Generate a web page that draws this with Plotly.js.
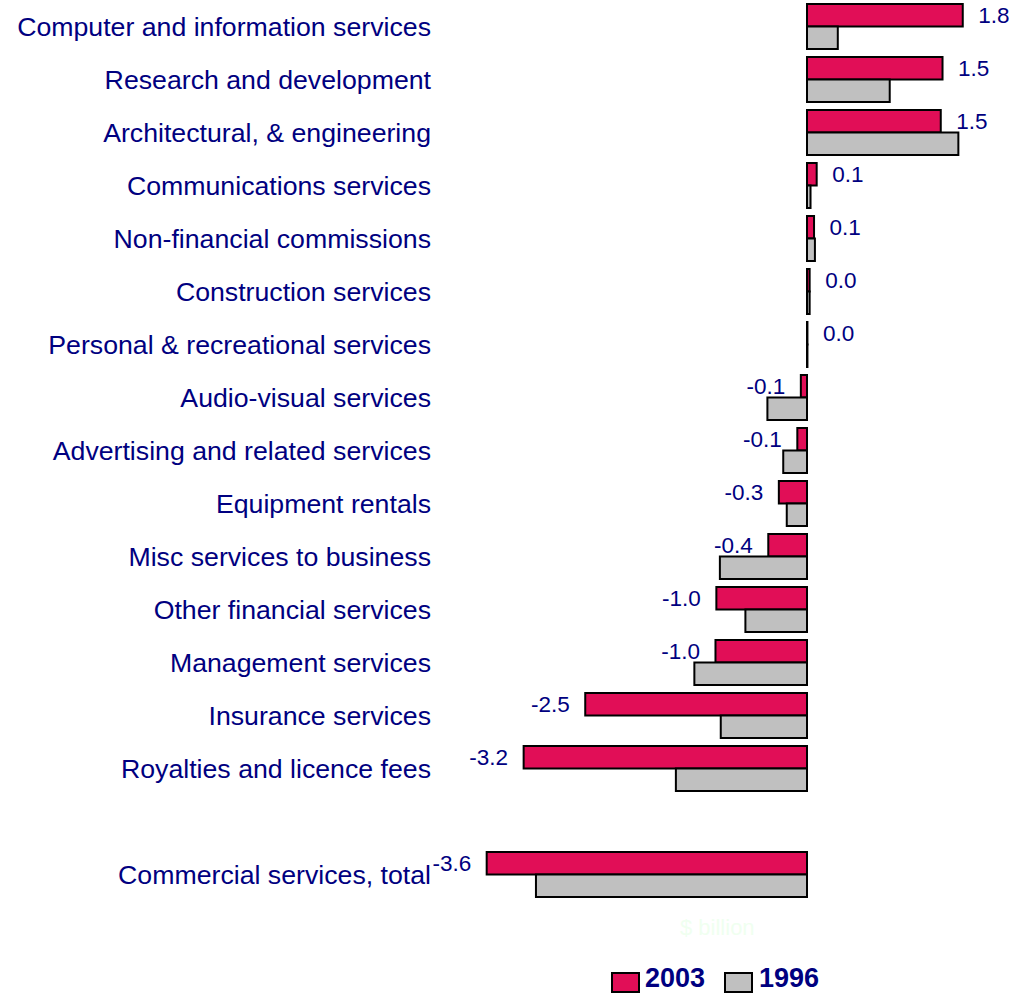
<!DOCTYPE html>
<html>
<head>
<meta charset="utf-8">
<script src="https://cdn.plot.ly/plotly-3.0.1.min.js"></script>
<style>html,body{margin:0;padding:0;background:#fff;}#chart{width:1019px;height:996px;}</style>
</head>
<body>
<div id="chart"></div>
<script>
const categories = [
  "Computer and information services",
  "Research and development",
  "Architectural, & engineering",
  "Communications services",
  "Non-financial commissions",
  "Construction services",
  "Personal & recreational services",
  "Audio-visual services",
  "Advertising and related services",
  "Equipment rentals",
  "Misc services to business",
  "Other financial services",
  "Management services",
  "Insurance services",
  "Royalties and licence fees",
  " ",
  "Commercial services, total"
];
const values2003 = [1.77, 1.54, 1.52, 0.11, 0.08, 0.03, 0.005, -0.07, -0.11, -0.32, -0.44, -1.03, -1.04, -2.52, -3.22, null, -3.64];
const values1996 = [0.35, 0.94, 1.72, 0.04, 0.09, 0.03, 0.005, -0.45, -0.27, -0.23, -0.99, -0.70, -1.28, -0.98, -1.49, null, -3.08];
const seriesNames = ["2003", "1996"];

const NB = "\u00a0\u00a0";
const labels2003 = values2003.map(v => v === null ? "" : (v >= 0 ? NB + v.toFixed(1) : v.toFixed(1) + NB));

const navy = "#000080";
const font = "Arial, 'Liberation Sans', sans-serif";

const traces = [
  {
    type: "bar", orientation: "h", name: seriesNames[0],
    y: categories, x: values2003,
    marker: {color: "#E10E57", line: {color: "#000000", width: 2}},
    text: labels2003, textposition: "outside", constraintext: "none",
    outsidetextfont: {family: font, size: 22.5, color: navy},
    cliponaxis: false, hoverinfo: "x+y"
  },
  {
    type: "bar", orientation: "h", name: seriesNames[1],
    y: categories, x: values1996,
    marker: {color: "#C0C0C0", line: {color: "#000000", width: 2}},
    cliponaxis: false, hoverinfo: "x+y"
  }
];

const W = 1019, H = 996, L = 440, R = 0, T = 0, B = 95;
const pw = W - L - R, ph = H - T - B;
const px = x => (x - L) / pw;
const py = y => (T + ph - y) / ph;

const layout = {
  width: W, height: H,
  margin: {l: L, r: R, t: T, b: B, pad: 0},
  paper_bgcolor: "#ffffff", plot_bgcolor: "#ffffff",
  barmode: "group", bargap: 0.15, bargroupgap: 0,
  showlegend: false,
  font: {family: font, color: navy},
  xaxis: {range: [-(807 - L) / 88, (W - R - 807) / 88], showticklabels: false, showgrid: false, zeroline: false, showline: false, ticks: ""},
  yaxis: {type: "category", autorange: "reversed", categoryorder: "array", categoryarray: categories,
          showgrid: false, zeroline: false, showline: false, ticks: "", ticklabelstandoff: 8,
          tickfont: {family: font, size: 26.7, color: navy}},
  shapes: [
    {type: "rect", xref: "paper", yref: "paper", x0: px(612), x1: px(639), y0: py(973), y1: py(992), fillcolor: "#E10E57", line: {color: "#000", width: 2}},
    {type: "rect", xref: "paper", yref: "paper", x0: px(725), x1: px(752), y0: py(973), y1: py(992), fillcolor: "#C0C0C0", line: {color: "#000", width: 2}}
  ],
  annotations: [
    {xref: "paper", yref: "paper", x: px(643), y: py(978), xanchor: "left", yanchor: "middle", showarrow: false, text: "<b>" + seriesNames[0] + "</b>", font: {family: font, size: 27, color: navy}},
    {xref: "paper", yref: "paper", x: px(757), y: py(978), xanchor: "left", yanchor: "middle", showarrow: false, text: "<b>" + seriesNames[1] + "</b>", font: {family: font, size: 27, color: navy}},
    {xref: "paper", yref: "paper", x: px(717), y: py(928), xanchor: "center", yanchor: "middle", showarrow: false, text: "$ billion", font: {family: font, size: 22, color: "#F0FFF0"}}
  ]
};

Plotly.newPlot("chart", traces, layout, {displayModeBar: false, staticPlot: true});
</script>
</body>
</html>
